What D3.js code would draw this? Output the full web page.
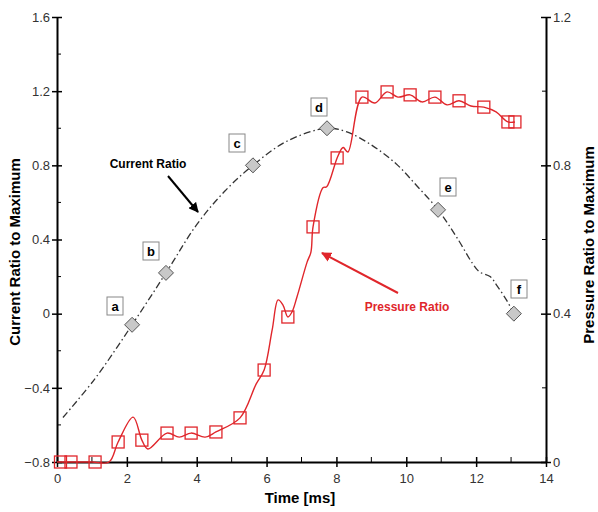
<!DOCTYPE html>
<html><head><meta charset="utf-8">
<script src="https://cdn.jsdelivr.net/npm/d3@7"></script>
<style>body{margin:0;background:#fff}svg{display:block;font-family:"Liberation Sans",Arial,sans-serif}</style>
</head><body><svg id="c" width="598" height="512"></svg>
<script>
// ---- data ----
const timeTicks = [0,2,4,6,8,10,12,14];
const leftTicks = [-0.8,-0.4,0,0.4,0.8,1.2,1.6];
const rightTicks = [0,0.4,0.8,1.2];

// current ratio curve (time ms, ratio)
const currentT = [0.17,1.09,2.15,3.12,4.0,4.8,5.61,6.58,7.73,8.3,9.0,9.7,10.3,10.91,11.45,11.9,12.1,12.4,12.6,12.88,13.08];
const currentV = [-0.56,-0.35,-0.06,0.22,0.48,0.66,0.80,0.93,1.00,0.98,0.91,0.81,0.69,0.56,0.41,0.27,0.225,0.20,0.15,0.07,0.00];
// marked points a-f
const markLabels = ["a","b","c","d","e","f"];
const markT = [2.15,3.12,5.61,7.73,10.91,13.08];
const markV = [-0.06,0.22,0.80,1.00,0.56,0.00];

// pressure ratio curve
const pressT = [0,0.5,1.0,1.49,1.75,2.18,2.43,2.6,3.15,3.5,3.84,4.24,4.55,5.24,5.7,5.93,6.16,6.33,6.47,6.61,6.73,6.87,7.16,7.27,7.33,7.62,7.72,8.02,8.16,8.2,8.33,8.73,9.1,9.45,9.76,10.11,10.45,10.82,11.17,11.51,11.85,12.22,12.57,12.91,13.11];
const pressV = [0,0,0,0,0.054,0.121,0.059,0.035,0.078,0.067,0.078,0.067,0.081,0.119,0.21,0.248,0.356,0.437,0.423,0.391,0.405,0.445,0.539,0.566,0.634,0.74,0.742,0.820,0.846,0.848,0.836,0.984,0.968,0.998,0.984,0.990,0.971,0.984,0.963,0.974,0.960,0.957,0.944,0.917,0.917];
// square markers
const sqT = [0.1,0.4,1.09,1.75,2.43,3.15,3.84,4.55,5.24,5.93,6.61,7.33,8.02,8.73,9.45,10.11,10.82,11.51,12.22,12.91,13.11];
const sqV = [0,0,0,0.054,0.059,0.078,0.078,0.081,0.119,0.248,0.391,0.634,0.820,0.984,0.998,0.990,0.984,0.974,0.957,0.917,0.917];

// ---- drawing ----
const svg = d3.select("#c");
const x = d3.scaleLinear().domain([0,14]).range([57,546]);
const yL = d3.scaleLinear().domain([-0.8,1.6]).range([462,17]);
const yR = d3.scaleLinear().domain([0,1.2]).range([462,17]);
const red = "#e0262b";

const fmt = d => d===0 ? "0" : d3.format(".1f")(d);

// minor ticks
const minorX = d3.range(1,14,2);
const minorL = [-0.6,-0.2,0.2,0.6,1.0,1.4];
const minorR = [0.2,0.6,1.0];
const g = svg.append("g");
g.selectAll(".mx").data(minorX).join("line").attr("x1",d=>x(d)).attr("x2",d=>x(d)).attr("y1",462).attr("y2",457).attr("stroke","#000").attr("stroke-width",1);
g.selectAll(".ml").data(minorL).join("line").attr("x1",57).attr("x2",61).attr("y1",d=>yL(d)).attr("y2",d=>yL(d)).attr("stroke","#000").attr("stroke-width",1);
g.selectAll(".mr").data(minorR).join("line").attr("x1",542).attr("x2",546).attr("y1",d=>yR(d)).attr("y2",d=>yR(d)).attr("stroke","#000").attr("stroke-width",1);

// axes
const ax = svg.append("g").attr("transform","translate(0,462)").call(d3.axisBottom(x).tickValues(timeTicks).tickFormat(d3.format("d")).tickSizeOuter(0).tickSizeInner(5).tickPadding(7));
const al = svg.append("g").attr("transform","translate(57,0)").call(d3.axisLeft(yL).tickValues(leftTicks).tickFormat(fmt).tickSizeOuter(0).tickSizeInner(5).tickPadding(2));
const ar = svg.append("g").attr("transform","translate(546,0)").call(d3.axisRight(yR).tickValues(rightTicks).tickFormat(fmt).tickSizeOuter(0).tickSizeInner(5).tickPadding(2));
ax.selectAll(".tick line").attr("y1",-5);
al.selectAll(".tick line").attr("x1",5);
ar.selectAll(".tick line").attr("x1",-5);
[ax,al,ar].forEach(a=>{
  a.select(".domain").attr("stroke","#000").attr("stroke-width",2);
  a.selectAll(".tick line").attr("stroke","#000").attr("stroke-width",1.5);
  a.selectAll(".tick text").attr("font-size",13).attr("fill","#333").attr("font-family","Liberation Sans, Arial, sans-serif");
});

// axis titles
svg.append("text").attr("x",300).attr("y",503).attr("text-anchor","middle").attr("font-size",15).attr("font-weight","bold").text("Time [ms]");
svg.append("text").attr("transform","translate(20,252) rotate(-90)").attr("text-anchor","middle").attr("font-size",15).attr("font-weight","bold").text("Current Ratio to Maximum");
svg.append("text").attr("transform","translate(594,245) rotate(-90)").attr("text-anchor","middle").attr("font-size",15).attr("font-weight","bold").text("Pressure Ratio to Maximum");

// current curve
const cur = currentT.map((t,i)=>[t,currentV[i]]);
svg.append("path").datum(cur)
  .attr("d", d3.line().x(d=>x(d[0])).y(d=>yL(d[1])).curve(d3.curveCatmullRom.alpha(0.5)))
  .attr("fill","none").attr("stroke","#333").attr("stroke-width",1.3).attr("stroke-dasharray","7,3,1.5,3");

// pressure curve
const pr = pressT.map((t,i)=>[t,pressV[i]]);
svg.append("path").datum(pr)
  .attr("d", d3.line().x(d=>x(d[0])).y(d=>yR(d[1])).curve(d3.curveCatmullRom.alpha(0.5)))
  .attr("fill","none").attr("stroke",red).attr("stroke-width",1.4);

// squares
svg.selectAll(".sq").data(sqT.map((t,i)=>[t,sqV[i]])).join("rect")
  .attr("x",d=>x(d[0])-6).attr("y",d=>yR(d[1])-6).attr("width",12).attr("height",12)
  .attr("fill","none").attr("stroke",red).attr("stroke-width",1.3);

// diamonds
const marks = markT.map((t,i)=>({t, v:markV[i], l:markLabels[i]}));
svg.selectAll(".dm").data(marks).join("path")
  .attr("d",d=>{const cx=x(d.t), cy=yL(d.v), r=7.5; return `M${cx},${cy-r}L${cx+r},${cy}L${cx},${cy+r}L${cx-r},${cy}Z`;})
  .attr("fill","#c8c8c8").attr("stroke","#555").attr("stroke-width",1);

// label boxes
const labelPos = {a:[115,306],b:[151,251],c:[237,143],d:[319,107],e:[448,187],f:[519,289]};
const lb = svg.selectAll(".lb").data(marks).join("g").attr("transform",d=>`translate(${labelPos[d.l][0]},${labelPos[d.l][1]})`);
lb.append("rect").attr("x",-8).attr("y",-9).attr("width",16).attr("height",18).attr("fill","#fff").attr("stroke","#888").attr("stroke-width",1);
lb.append("text").attr("text-anchor","middle").attr("dy","0.36em").attr("font-size",13).attr("font-weight","bold").text(d=>d.l);

// annotations
const defs = svg.append("defs");
defs.append("marker").attr("id","ab").attr("viewBox","0 0 10 10").attr("refX",9).attr("refY",5).attr("markerWidth",5).attr("markerHeight",5).attr("orient","auto")
  .append("path").attr("d","M0,0L10,5L0,10Z").attr("fill","#000");
defs.append("marker").attr("id","ar").attr("viewBox","0 0 10 10").attr("refX",9).attr("refY",5).attr("markerWidth",5).attr("markerHeight",5).attr("orient","auto")
  .append("path").attr("d","M0,0L10,5L0,10Z").attr("fill",red);
svg.append("text").attr("x",148).attr("y",168).attr("text-anchor","middle").attr("font-size",12).attr("font-weight","bold").text("Current Ratio");
svg.append("line").attr("x1",168).attr("y1",176).attr("x2",198).attr("y2",212).attr("stroke","#000").attr("stroke-width",2).attr("marker-end","url(#ab)");
svg.append("text").attr("x",407).attr("y",311).attr("text-anchor","middle").attr("font-size",12).attr("font-weight","bold").attr("fill",red).text("Pressure Ratio");
svg.append("line").attr("x1",398).attr("y1",293).attr("x2",322).attr("y2",253).attr("stroke",red).attr("stroke-width",2).attr("marker-end","url(#ar)");
</script></body></html>
